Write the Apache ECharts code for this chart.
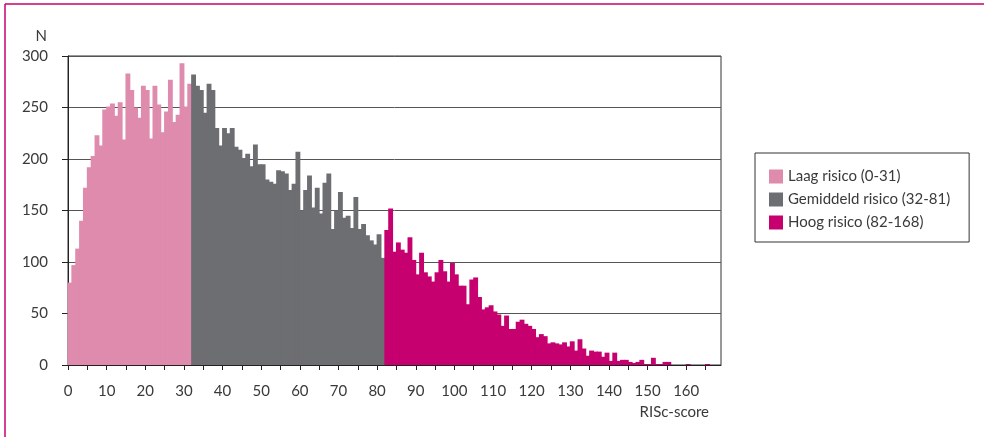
<!DOCTYPE html>
<html>
<head>
<meta charset="utf-8">
<script src="https://cdn.jsdelivr.net/npm/echarts@6/dist/echarts.min.js"></script>
<style>
html,body{margin:0;padding:0;background:#fff;}
#chart{width:984px;height:437px;}
</style>
</head>
<body>
<div id="chart"></div>
<script>
// Score ranges (start score of each group)
const lowStart = 0;
const midStart = 32;
const highStart = 82;

// N per RISc-score, 0-31
const lowValues = [80, 97, 113, 140, 172, 192, 203, 223, 213, 248, 251, 254, 242, 255, 219, 283,
  267, 250, 240, 271, 267, 220, 271, 253, 226, 246, 277, 236, 243, 293, 251, 273];
// N per RISc-score, 32-81
const midValues = [282, 271, 267, 245, 273, 267, 230, 213, 230, 225, 230, 212, 209, 201, 205, 193,
  214, 195, 195, 180, 178, 176, 189, 188, 186, 170, 176, 207, 150, 170, 184, 153, 172, 147, 177,
  186, 132, 150, 168, 143, 145, 133, 163, 132, 137, 126, 121, 117, 127, 104];
// N per RISc-score, 82-168
const highValues = [131, 152, 110, 119, 112, 109, 124, 102, 88, 109, 90, 86, 81, 90, 102, 91,
  81, 99, 88, 77, 77, 59, 83, 85, 66, 54, 56, 58, 52, 49, 38, 48, 35, 35, 42, 44, 40, 38, 35,
  27, 30, 28, 21, 22, 21, 20, 22, 18, 23, 14, 25, 16, 9, 14, 13, 13, 8, 12, 4, 12, 4, 5, 5, 3,
  2, 3, 5, 1, 1, 7, 1, 1, 3, 3, 0, 0, 0, 0, 1, 0, 0, 0, 0, 1, 0, 0, 0];

const seriesNames = ['Laag risico (0-31)', 'Gemiddeld risico (32-81)', 'Hoog risico (82-168)'];
const seriesColors = ['#DE8BAD', '#6D6E71', '#C6006F'];

const xTickValues = [0,5,10,15,20,25,30,35,40,45,50,55,60,65,70,75,80,85,90,95,100,105,110,115,120,125,130,135,140,145,150,155,160,165];
const xLabelValues = [0,10,20,30,40,50,60,70,80,90,100,110,120,130,140,150,160];

function toPoints(start, vals) {
  return vals.map((v, i) => [start + i + 0.5, v]);
}

const groups = [[lowStart, lowValues], [midStart, midValues], [highStart, highValues]];

const chart = echarts.init(document.getElementById('chart'), null, {renderer: 'canvas'});
const txt = '#3a3a3a';
const font = 'Lato, "Open Sans", sans-serif';

chart.setOption({
  animation: false,
  textStyle: {fontFamily: font},
  grid: {left: 68, right: 263, top: 56, bottom: 72, show: true, borderColor: '#333', borderWidth: 1},
  legend: {
    orient: 'vertical',
    left: 755, top: 153,
    padding: [16, 19, 12, 14],
    itemGap: 8,
    itemWidth: 14, itemHeight: 14,
    icon: 'rect',
    borderColor: '#333', borderWidth: 1,
    textStyle: {fontSize: 15, color: txt, fontFamily: font},
    data: seriesNames
  },
  xAxis: {
    type: 'value', min: 0, max: 169,
    name: 'RISc-score', nameLocation: 'end', nameGap: 0,
    nameTextStyle: {fontSize: 15, color: txt, align: 'right', verticalAlign: 'top', padding: [40, 12, 0, 0]},
    axisLine: {show: true, lineStyle: {color: '#222', width: 1}},
    axisTick: {show: true, length: 5, customValues: xTickValues, lineStyle: {color: '#222'}},
    axisLabel: {customValues: xLabelValues, fontSize: 15, color: txt, margin: 19},
    splitLine: {show: false}
  },
  yAxis: {
    type: 'value', min: 0, max: 300, interval: 50,
    name: 'N', nameLocation: 'end', nameGap: 20,
    nameTextStyle: {fontSize: 15, color: txt, align: 'right', verticalAlign: 'middle', padding: [0, 21, 0, 0]},
    axisLine: {show: true, lineStyle: {color: '#222', width: 1}},
    axisTick: {show: true, length: 6, inside: false, lineStyle: {color: '#222'}},
    axisLabel: {fontSize: 15, color: txt, margin: 20},
    splitLine: {show: true, lineStyle: {color: '#555', width: 1}}
  },
  graphic: [
    {type: 'line', shape: {x1: 5, y1: 4, x2: 984, y2: 4}, style: {stroke: '#C8006E', lineWidth: 1.5}, silent: true},
    {type: 'line', shape: {x1: 5, y1: 4, x2: 5, y2: 437}, style: {stroke: '#C8006E', lineWidth: 1.5}, silent: true}
  ],
  series: groups.map((g, i) => ({
    name: seriesNames[i],
    type: 'bar',
    barWidth: '126%',
    barGap: '-100%',
    itemStyle: {color: seriesColors[i], borderWidth: 0},
    data: toPoints(g[0], g[1])
  }))
});
</script>
</body>
</html>
